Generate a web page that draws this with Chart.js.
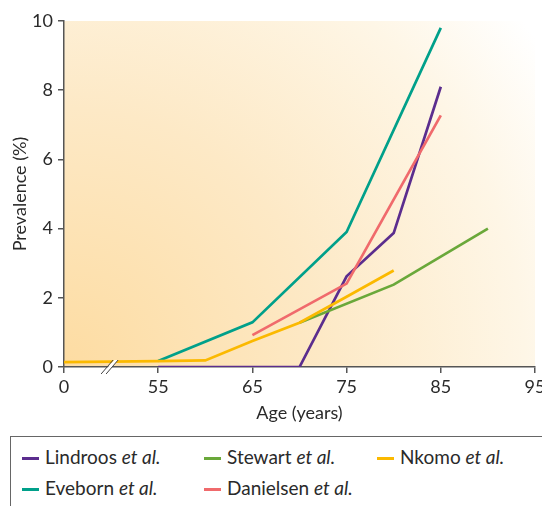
<!DOCTYPE html>
<html>
<head>
<meta charset="utf-8">
<script src="https://cdn.jsdelivr.net/npm/chart.js@4/dist/chart.umd.min.js"></script>
<style>
    body { margin: 0; background: #fff; font-family: Lato, sans-serif; }
    #wrap { position: absolute; left: 0; top: 0; width: 542px; height: 428px; }
    #legenda {
        position: absolute; left: 10px; top: 436px; width: 540px; height: 80px;
        border: 1px solid #666; box-sizing: border-box;
    }
    .item { position: absolute; font-size: 19px; color: #2a2a2a; white-space: nowrap; line-height: 22px; }
    .item span.traco { display: inline-block; width: 17px; height: 3px; vertical-align: middle; margin-right: 6px; position: relative; top: -1px; }
</style>
</head>
<body>
<div id="wrap"><canvas id="grafico"></canvas></div>
<div id="legenda"></div>
<script>
// idades (0 fica antes da quebra do eixo)
let idadesLindroos = [55, 70, 75, 80, 85]
let valoresLindroos = [0, 0, 2.62, 3.87, 8.1]

let idadesStewart = [70, 80, 90]
let valoresStewart = [1.28, 2.38, 4.0]

let idadesNkomo = [0, 55, 60, 65, 70, 75, 80]
let valoresNkomo = [0.14, 0.17, 0.19, 0.75, 1.28, 2.03, 2.79]

let idadesEveborn = [55, 65, 75, 85]
let valoresEveborn = [0.17, 1.29, 3.9, 9.8]

let idadesDanielsen = [65, 75, 85]
let valoresDanielsen = [0.92, 2.41, 7.27]

let ticksX = [0, 55, 65, 75, 85, 95]
let ticksY = [0, 2, 4, 6, 8, 10]

let nomes = ['Lindroos', 'Stewart', 'Nkomo', 'Eveborn', 'Danielsen']
let cores = ['#5b2d8e', '#6aa83a', '#fbb900', '#00a08a', '#f06a6c']

// posicao no eixo: a idade 0 fica uma divisao antes de 55
function posicao(idade) {
    return idade === 0 ? 45 : idade
}

function pontos(idades, valores) {
    let lista = []
    for (let i = 0; i < idades.length; i++) {
        lista.push({ x: posicao(idades[i]), y: valores[i] })
    }
    return lista
}

let series = [
    pontos(idadesLindroos, valoresLindroos),
    pontos(idadesStewart, valoresStewart),
    pontos(idadesNkomo, valoresNkomo),
    pontos(idadesEveborn, valoresEveborn),
    pontos(idadesDanielsen, valoresDanielsen)
]

// ordem de desenho: amarelo por baixo
let ordem = [2, 1, 4, 3, 0]
let datasets = []
for (let k = 0; k < ordem.length; k++) {
    let i = ordem[k]
    datasets.push({
        label: nomes[i],
        data: series[i],
        borderColor: cores[i],
        borderWidth: 2.7,
        pointRadius: 0,
        tension: 0,
        fill: false
    })
}

let fundo = {
    id: 'fundo',
    beforeDraw(chart) {
        let a = chart.chartArea
        let ctx = chart.ctx
        let g = ctx.createRadialGradient(a.left, a.bottom, 0, a.left, a.bottom, 575)
        g.addColorStop(0, '#fddca2')
        g.addColorStop(0.45, '#fde9c6')
        g.addColorStop(0.8, '#fef6e6')
        g.addColorStop(1, '#ffffff')
        ctx.save()
        ctx.fillStyle = g
        ctx.fillRect(a.left, a.top, a.right - a.left, a.bottom - a.top)
        ctx.restore()
    }
}

let quebra = {
    id: 'quebra',
    afterDatasetsDraw(chart) {
        let ctx = chart.ctx
        let x = chart.scales.x.getPixelForValue(50)
        let y = chart.scales.y.getPixelForValue(0)
        ctx.save()
        ctx.fillStyle = '#ffffff'
        ctx.beginPath()
        ctx.moveTo(x - 9, y + 7)
        ctx.lineTo(x + 3, y - 7)
        ctx.lineTo(x + 7, y - 7)
        ctx.lineTo(x - 5, y + 7)
        ctx.closePath()
        ctx.fill()
        ctx.strokeStyle = '#444'
        ctx.lineWidth = 1
        ctx.beginPath()
        ctx.moveTo(x - 10, y + 7)
        ctx.lineTo(x + 2, y - 7)
        ctx.moveTo(x - 5, y + 7)
        ctx.lineTo(x + 7, y - 7)
        ctx.stroke()
        ctx.restore()
    }
}

let fonte = { family: 'Lato', size: 18 }

let ctx = document.getElementById('grafico').getContext('2d')
new Chart(ctx, {
    type: 'line',
    data: { datasets: datasets },
    options: {
        responsive: true,
        maintainAspectRatio: false,
        animation: false,
        layout: { padding: { top: 21, right: 0, left: 0, bottom: 0 } },
        plugins: { legend: { display: false }, tooltip: { enabled: false } },
        scales: {
            x: {
                type: 'linear',
                min: 45,
                max: 95,
                afterBuildTicks(scale) {
                    scale.ticks = ticksX.map(v => ({ value: posicao(v) }))
                },
                ticks: {
                    color: '#2a2a2a',
                    font: fonte,
                    padding: 3,
                    maxRotation: 0,
                    callback: v => v === 45 ? '0' : String(v)
                },
                grid: { drawOnChartArea: false, drawTicks: true, tickLength: 6, color: '#555', lineWidth: 1.5 },
                border: { color: '#555', width: 1.5 },
                title: { display: true, text: 'Age (years)', color: '#2a2a2a', font: fonte, padding: { top: 5 } },
                afterFit(scale) { scale.height = 61; scale.paddingRight = 7 }
            },
            y: {
                min: 0,
                max: 10,
                afterBuildTicks(scale) {
                    scale.ticks = ticksY.map(v => ({ value: v }))
                },
                ticks: { color: '#2a2a2a', font: fonte, padding: 5 },
                grid: { drawOnChartArea: false, drawTicks: true, tickLength: 6, color: '#555', lineWidth: 1.5 },
                border: { color: '#555', width: 1.5 },
                title: { display: true, text: 'Prevalence (%)', color: '#2a2a2a', font: fonte, padding: { top: 9, bottom: 4 } },
                afterFit(scale) { scale.width = 64 }
            }
        }
    },
    plugins: [fundo, quebra]
})

// legenda em html por causa do italico
let posLegenda = [[11, 9], [193, 9], [366, 9], [11, 40], [193, 40]]
let legenda = document.getElementById('legenda')
for (let i = 0; i < nomes.length; i++) {
    let d = document.createElement('div')
    d.className = 'item'
    d.style.left = posLegenda[i][0] + 'px'
    d.style.top = posLegenda[i][1] + 'px'
    d.innerHTML = '<span class="traco" style="background:' + cores[i] + '"></span>' + nomes[i] + ' <i>et al.</i>'
    legenda.appendChild(d)
}
</script>
</body>
</html>
